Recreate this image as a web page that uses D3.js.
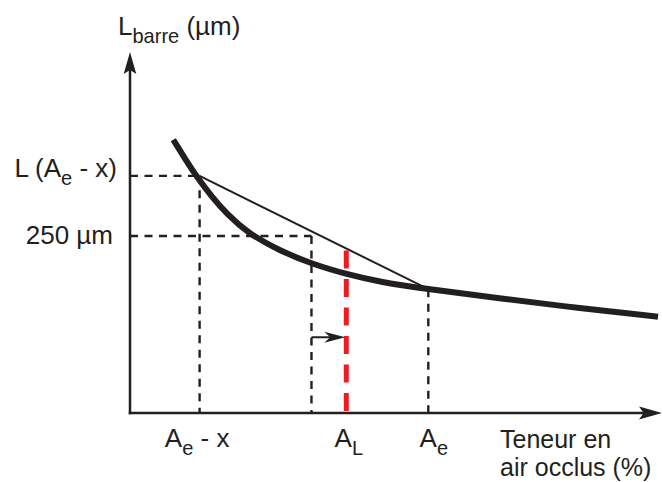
<!DOCTYPE html>
<html>
<head>
<meta charset="utf-8">
<script src="https://cdn.jsdelivr.net/npm/d3@7/dist/d3.min.js"></script>
<style>
  html, body { margin: 0; padding: 0; background: #fff; }
  svg { display: block; }
  text { font-family: "Liberation Sans", Arial, Helvetica, sans-serif; fill: #231f20; }
</style>
</head>
<body>
<svg id="chart" width="663" height="482"></svg>
<script>
// Bar length L_barre (µm) against entrained air content (%)
const airCurve = [0.87, 1.11, 1.35, 1.65, 1.95, 2.37, 3.02, 3.68, 4.36, 5.03, 6.0, 7.44, 9.05, 10.62];
const lCurve   = [386, 359, 333, 305, 281, 254, 229, 210, 196, 185, 175, 162, 148, 136];

// Reference points on the air axis
const airAeMinusX = 1.4;   // A_e - x
const air250 = 3.65;       // air content where the secant reaches 250 µm
const airL = 4.35;         // A_L
const airAe = 6.0;         // A_e

// Reference points on the length axis
const lAeMinusX = 335;     // L(A_e - x)
const l250 = 250;          // 250 µm
const lAe = 175;           // L(A_e)
const lArrow = 107;        // level of the shift arrow

// Axis extents
const airMax = 10.7;
const lMax = 510;

// Tick labels: [main, subscript, trailing]
const xTickValues = [airAeMinusX, airL, airAe];
const xTickLabels = [["A", "e", " - x"], ["A", "L", ""], ["A", "e", ""]];
const yTickValues = [lAeMinusX, l250];
const yTickLabels = [["L (A", "e", " - x)"], ["250 µm", "", ""]];

// Label nudges (pixels)
const xLabelDx = [-2.5, 2.5, 5.5];
const yLabelDx = [0, -4];
const yLabelDy = [1, 8];

const ink = "#231f20";
const red = "#ed1c24";

const svg = d3.select("#chart");
const x = d3.scaleLinear().domain([0, airMax]).range([130, 662]);
const y = d3.scaleLinear().domain([0, lMax]).range([413, 52]);

// Concave arrowhead pointing along +x, tip at origin
function arrowHead(len, half, notch) {
  return `M0,0 L${-len},${-half} L${-len * notch},0 L${-len},${half} Z`;
}

// Axes
svg.append("line")
  .attr("x1", x(0) - 1.25).attr("y1", y(0))
  .attr("x2", x(airMax) - 10).attr("y2", y(0))
  .attr("stroke", ink).attr("stroke-width", 2.5);
svg.append("path")
  .attr("d", arrowHead(23, 6.5, 0.8))
  .attr("transform", `translate(${x(airMax)},${y(0)})`)
  .attr("fill", ink);

svg.append("line")
  .attr("x1", x(0)).attr("y1", y(0) + 1.25)
  .attr("x2", x(0)).attr("y2", y(lMax) + 10)
  .attr("stroke", ink).attr("stroke-width", 2.5);
svg.append("path")
  .attr("d", arrowHead(22, 6.3, 0.82))
  .attr("transform", `translate(${x(0)},${y(lMax)}) rotate(-90)`)
  .attr("fill", ink);

// Dashed guides
const guides = [
  [[0, lAeMinusX], [airAeMinusX, lAeMinusX]],
  [[airAeMinusX, lAeMinusX], [airAeMinusX, 0]],
  [[0, l250], [air250, l250]],
  [[air250, l250], [air250, 0]],
  [[airAe, lAe], [airAe, 0]]
];
svg.append("g").selectAll("line").data(guides).join("line")
  .attr("x1", d => x(d[0][0])).attr("y1", d => y(d[0][1]))
  .attr("x2", d => x(d[1][0])).attr("y2", d => y(d[1][1]))
  .attr("stroke", ink).attr("stroke-width", 2.4)
  .attr("stroke-dasharray", "8,6.5");

// Secant between (A_e - x) and A_e
svg.append("line")
  .attr("x1", x(airAeMinusX)).attr("y1", y(lAeMinusX))
  .attr("x2", x(airAe)).attr("y2", y(lAe))
  .attr("stroke", ink).attr("stroke-width", 2);

// Secant value at A_L sets the top of the red guide
const lSecantAtL = lAeMinusX + (airL - airAeMinusX) / (airAe - airAeMinusX) * (lAe - lAeMinusX);
svg.append("line")
  .attr("x1", x(airL)).attr("y1", y(lSecantAtL) + 2)
  .attr("x2", x(airL)).attr("y2", y(0) - 1)
  .attr("stroke", red).attr("stroke-width", 5)
  .attr("stroke-dasharray", "18,10.5");

// L_barre curve
const curvePts = airCurve.map((a, i) => [a, lCurve[i]]);
svg.append("path")
  .datum(curvePts)
  .attr("d", d3.line().x(d => x(d[0])).y(d => y(d[1])).curve(d3.curveBasis))
  .attr("fill", "none").attr("stroke", ink).attr("stroke-width", 6);

// Shift arrow from the 250 µm air content to A_L
svg.append("line")
  .attr("x1", x(air250)).attr("y1", y(lArrow))
  .attr("x2", x(airL) - 12).attr("y2", y(lArrow))
  .attr("stroke", ink).attr("stroke-width", 2);
svg.append("path")
  .attr("d", arrowHead(21, 5.5, 0.72))
  .attr("transform", `translate(${x(airL) - 1},${y(lArrow)})`)
  .attr("fill", ink);

// Text with an optional subscript
function richText(sel, parts, size) {
  sel.append("tspan").text(parts[0]);
  if (parts[1]) {
    sel.append("tspan").attr("dy", 8).attr("font-size", size * 0.77).text(parts[1]);
    if (parts[2]) sel.append("tspan").attr("dy", -8).text(parts[2]);
  } else if (parts[2]) {
    sel.append("tspan").text(parts[2]);
  }
}

const fs = 26;
svg.append("g").selectAll("text").data(xTickValues).join("text")
  .attr("x", (d, i) => x(d) + xLabelDx[i]).attr("y", 447)
  .attr("text-anchor", "middle").attr("font-size", fs)
  .each(function (d, i) { richText(d3.select(this), xTickLabels[i], fs); });

svg.append("g").selectAll("text").data(yTickValues).join("text")
  .attr("x", (d, i) => 117 + yLabelDx[i]).attr("y", (d, i) => y(d) + yLabelDy[i])
  .attr("text-anchor", "end").attr("font-size", fs)
  .each(function (d, i) { richText(d3.select(this), yTickLabels[i], fs); });

// Axis titles
const yTitle = svg.append("text").attr("x", 118).attr("y", 35).attr("font-size", fs);
richText(yTitle, ["L", "barre", " (µm)"], fs);

svg.append("text").attr("x", 500).attr("y", 448).attr("font-size", 25).text("Teneur en");
svg.append("text").attr("x", 500).attr("y", 476).attr("font-size", 25).text("air occlus (%)");
</script>
</body>
</html>
